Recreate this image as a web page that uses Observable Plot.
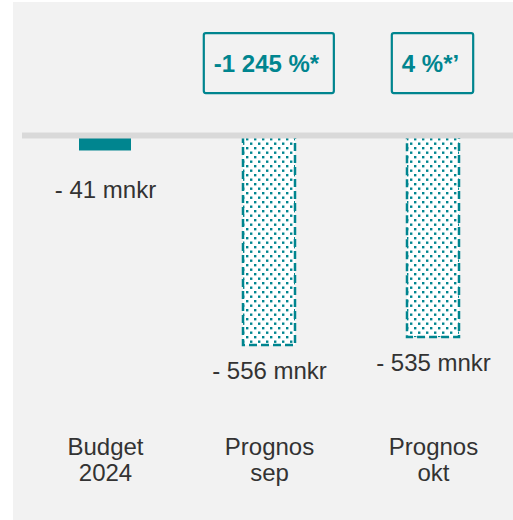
<!DOCTYPE html>
<html>
<head>
<meta charset="utf-8">
<script src="https://cdn.jsdelivr.net/npm/d3@7"></script>
<script src="https://cdn.jsdelivr.net/npm/@observablehq/plot@0.6"></script>
<style>
  html, body { margin: 0; padding: 0; background: #ffffff; }
  #chart svg { display: block; margin: 2px 0 0 13px; }
</style>
</head>
<body>
<div id="chart"></div>
<script>
const categories = ["Budget\n2024", "Prognos\nsep", "Prognos\nokt"];
const values = [-41, -556, -535];
const kinds = ["budget", "prognos", "prognos"];
const valueLabels = ["- 41 mnkr", "- 556 mnkr", "- 535 mnkr"];
const changeLabels = [null, "-1 245 %*", "4 %*\u2019"];

const teal = "#00858f";
const textColor = "#333333";

const data = categories.map((c, i) => ({
  category: c, value: values[i], kind: kinds[i], label: valueLabels[i], change: changeLabels[i]
}));
const budget = data.filter(d => d.kind === "budget");
const prognos = data.filter(d => d.kind === "prognos");
const annotated = data.filter(d => d.change);

const chart = Plot.plot({
  width: 500,
  height: 518,
  marginTop: 0,
  marginLeft: 9,
  marginRight: 0,
  marginBottom: 84,
  style: { background: "#f2f2f2", fontFamily: "'Liberation Sans', Arial, sans-serif", color: textColor, overflow: "visible" },
  x: { domain: categories, range: [10, 502], padding: 0 },
  y: { domain: [-556, 0], range: [343, 133], axis: null },
  marks: [
    Plot.barY(budget, { x: "category", y: "value", fill: teal, insetLeft: 56, insetRight: 56 }),
    Plot.barY(prognos, { x: "category", y: "value", fill: "url(#dots)", stroke: teal, strokeWidth: 2.5, strokeDasharray: "8,4", insetLeft: 56, insetRight: 56 }),
    Plot.ruleY([0], { stroke: "#d9d9d9", strokeWidth: 6 }),
    Plot.text(budget, { x: "category", y: "value", text: "label", dy: 39, fontSize: 24, fill: textColor }),
    Plot.text(prognos, { x: "category", y: "value", text: "label", dy: 26, fontSize: 24, fill: textColor }),
    Plot.text(annotated, { x: "category", text: "change", frameAnchor: "top", dy: 52, dx: -3, fontSize: 24, fontWeight: "bold", fill: teal }),
    Plot.axisX({ tickSize: 0, tickPadding: 0, fontSize: 24, lineHeight: 1.09, label: null, fill: textColor })
  ]
});

document.getElementById("chart").appendChild(chart);

// dotted pattern for forecast bars
const svg = d3.select(chart);
const defs = svg.insert("defs", ":first-child");
const pat = defs.append("pattern").attr("id", "dots").attr("patternUnits", "userSpaceOnUse")
  .attr("width", 8).attr("height", 9);
pat.append("rect").attr("width", 8).attr("height", 9).attr("fill", "#ffffff");
pat.append("rect").attr("x", 1).attr("y", 1).attr("width", 2.4).attr("height", 2.4).attr("fill", teal);
pat.append("rect").attr("x", 5).attr("y", 5.5).attr("width", 2.4).attr("height", 2.4).attr("fill", teal);

// boxes around the change annotations, sized from the text itself
const annTexts = svg.selectAll("text").filter(function () { return changeLabels.includes(this.textContent); });
annTexts.each(function () {
  const b = this.getBBox();
  const ctm = this.getCTM();
  const cx = b.x + b.width / 2 + (ctm ? ctm.e : 0);
  const cy = b.y + b.height / 2 + (ctm ? ctm.f : 0);
  const w = b.width + 24;
  const h = 60;
  svg.append("rect")
    .attr("x", cx - w / 2 + 2).attr("y", cy - h / 2)
    .attr("width", w).attr("height", h)
    .attr("rx", 2)
    .attr("fill", "none").attr("stroke", teal).attr("stroke-width", 2.2);
});
</script>
</body>
</html>
